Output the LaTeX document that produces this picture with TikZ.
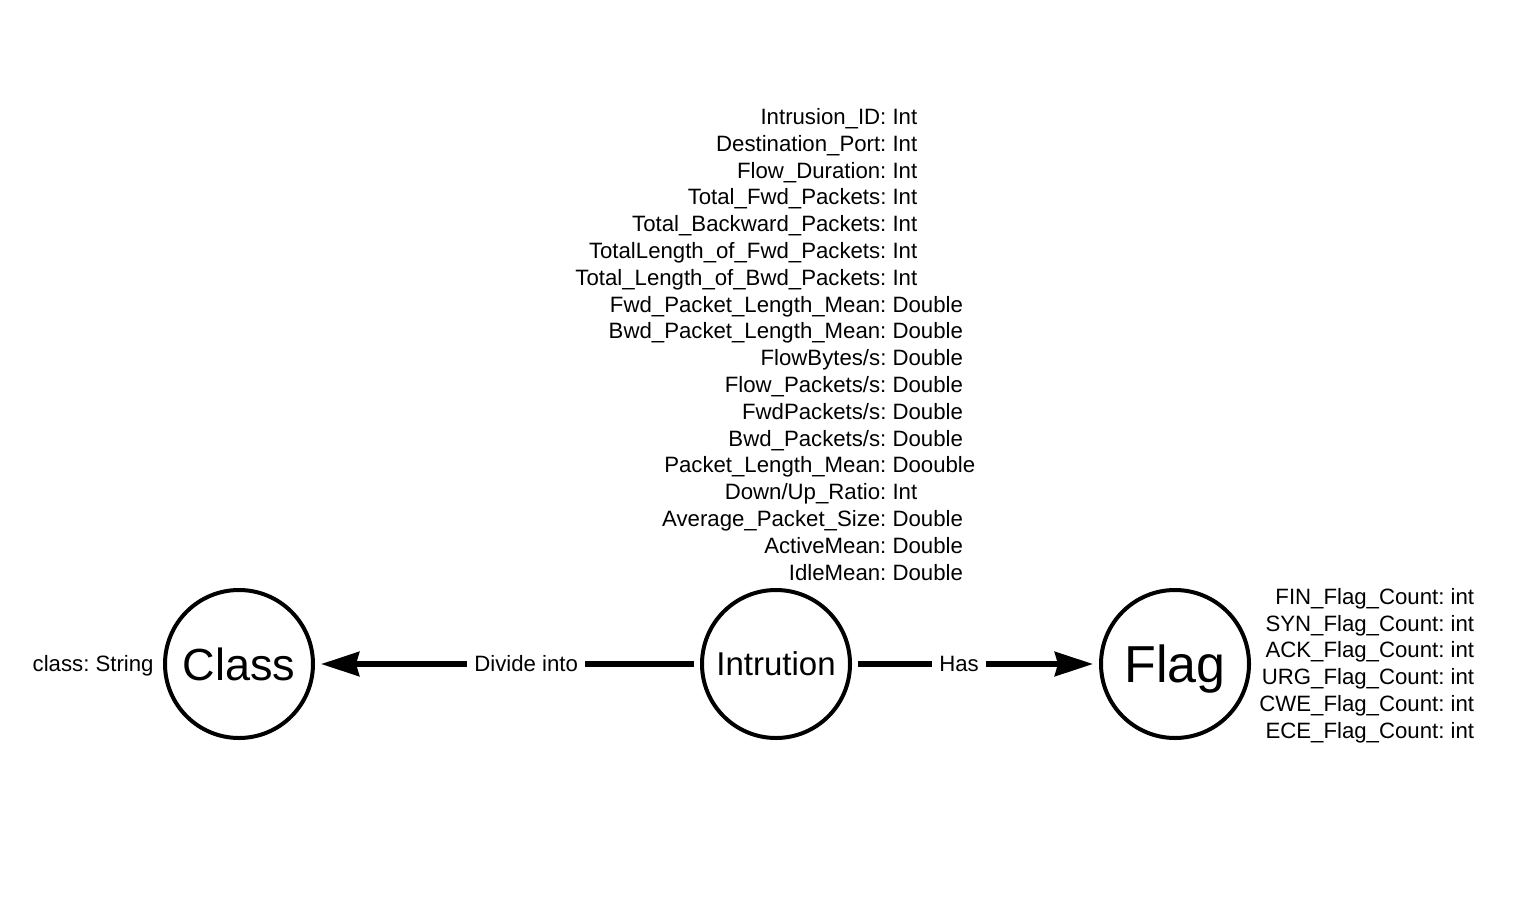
\documentclass[tikz,border=0pt]{standalone}
\usepackage{fontspec}
\setmainfont{Liberation Sans}
\frenchspacing
\usetikzlibrary{positioning,arrows.meta}
\begin{document}
\begin{tikzpicture}[x=0.5pt,y=-0.5pt,
    ent/.style={circle,draw,line width=2pt,minimum size=74pt,inner sep=0pt,outer sep=4pt,text depth=0pt},
    attr/.style={inner sep=0pt,font=\fontsize{11.1}{13.4}\selectfont},
    rel/.style={line width=3pt,-{Stealth[length=19pt,width=12pt,inset=1.5pt]}},
    lbl/.style={fill=white,inner sep=3.5pt,font=\fontsize{11.1}{13}\selectfont}]
    \useasboundingbox (0,0) rectangle (1530,909);

    \node[ent,font=\fontsize{22.5}{27}\selectfont](class)at(239,664){Class};
    \node[ent,font=\fontsize{16.5}{20}\selectfont](intru)at(776,664){Intrution};
    \node[ent,font=\fontsize{26}{31}\selectfont](flag)at(1175,664){Flag};

    \node[attr,anchor=west](intruattr)at(575,347){\begin{tabular}{@{}r@{\ }l@{}}
        Intrusion\_ID: & Int\\
        Destination\_Port: & Int\\
        Flow\_Duration: & Int\\
        Total\_Fwd\_Packets: & Int\\
        Total\_Backward\_Packets: & Int\\
        TotalLength\_of\_Fwd\_Packets: & Int\\
        Total\_Length\_of\_Bwd\_Packets: & Int\\
        Fwd\_Packet\_Length\_Mean: & Double\\
        Bwd\_Packet\_Length\_Mean: & Double\\
        FlowBytes/s: & Double\\
        Flow\_Packets/s: & Double\\
        FwdPackets/s: & Double\\
        Bwd\_Packets/s: & Double\\
        Packet\_Length\_Mean: & Doouble\\
        Down/Up\_Ratio: & Int\\
        Average\_Packet\_Size: & Double\\
        ActiveMean: & Double\\
        IdleMean: & Double
    \end{tabular}};
    \node[attr,left=1.5pt of class,yshift=-1pt](classattr){class: String};
    \node[attr,right=1pt of flag,yshift=-1pt](flagattr){\begin{tabular}{@{}r@{}}
        FIN\_Flag\_Count: int\\
        SYN\_Flag\_Count: int\\
        ACK\_Flag\_Count: int\\
        URG\_Flag\_Count: int\\
        CWE\_Flag\_Count: int\\
        ECE\_Flag\_Count: int
    \end{tabular}};

    \draw[rel](intru)--node[lbl,pos=.45]{Divide into}(class);
    \draw[rel](intru)--node[lbl,pos=.43]{Has}(flag);
\end{tikzpicture}
\end{document}
